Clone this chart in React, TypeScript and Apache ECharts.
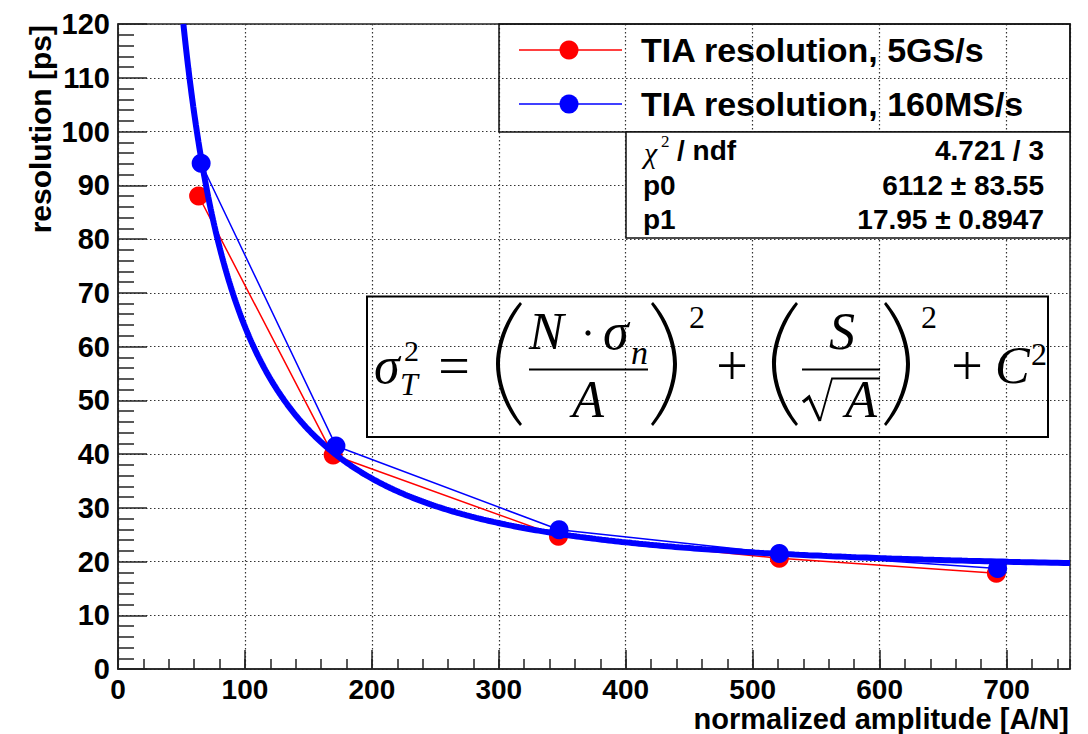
import { useEffect, useRef } from "react";
import * as echarts from "echarts";

// Measured time resolution vs. normalized amplitude for the two sampling rates
const amp5GS = [63.5, 169.5, 347, 521, 692];
const res5GS = [88.0, 39.8, 24.7, 20.6, 17.8];
const amp160MS = [65.5, 171.7, 347.5, 521, 693];
const res160MS = [94.1, 41.5, 25.9, 21.5, 18.7];

const seriesNames = ["TIA resolution, 5GS/s", "TIA resolution, 160MS/s"];

// Fit result: sigma(A) = sqrt((p0 / A)^2 + p1^2)
const fitP0 = 6112;
const fitP0Err = 83.55;
const fitP1 = 17.95;
const fitP1Err = 0.8947;
const fitChi2 = 4.721;
const fitNdf = 3;

const xRange = [0, 750];
const yRange = [0, 120];

const xTitle = "normalized amplitude [A/N]";
const yTitle = "resolution [ps]";

const SANS = "'Liberation Sans', Arial, Helvetica, sans-serif";
const SERIF = "'Liberation Serif', 'Times New Roman', serif";

// Large parentheses for the formula, drawn as filled crescents (28 x 124 box)
const PAREN_L =
  "M 26 0 C 9 20 2 44 2 62 C 2 80 9 104 26 124 L 28 122 C 13 102 6 80 6 62 C 6 44 13 22 28 2 Z";
const PAREN_R =
  "M 2 0 C 19 20 26 44 26 62 C 26 80 19 104 2 124 L 0 122 C 15 102 22 80 22 62 C 22 44 15 22 0 2 Z";
let shapesReady = false;
function registerShapes() {
  if (shapesReady) return;
  echarts.graphic.registerShape("parenLeft", echarts.graphic.extendPath(PAREN_L, {}));
  echarts.graphic.registerShape("parenRight", echarts.graphic.extendPath(PAREN_R, {}));
  shapesReady = true;
}

function fitValue(a: number) {
  return Math.sqrt((fitP0 / a) ** 2 + fitP1 ** 2);
}

function buildFitCurve() {
  const start = fitP0 / Math.sqrt(yRange[1] ** 2 - fitP1 ** 2);
  const pts: number[][] = [];
  const n = 400;
  for (let i = 0; i <= n; i++) {
    const a = start * Math.pow(xRange[1] / start, i / n);
    pts.push([a, fitValue(a)]);
  }
  return pts;
}

function txt(
  x: number,
  y: number,
  text: string,
  opts: {
    size: number;
    family?: string;
    weight?: string;
    italic?: boolean;
    align?: string;
    fill?: string;
    rotation?: number;
    lineHeight?: number;
  }
) {
  const align = opts.align || "left";
  const style: any = {
    text,
    fontSize: opts.size,
    fontFamily: opts.family || SANS,
    fontWeight: opts.weight || "normal",
    fontStyle: opts.italic ? "italic" : "normal",
    fill: opts.fill || "#000",
    textAlign: align,
    align,
    textVerticalAlign: "middle",
    verticalAlign: "middle",
  };
  if (opts.lineHeight) style.lineHeight = opts.lineHeight;
  return {
    type: "text",
    x,
    y,
    rotation: opts.rotation || 0,
    z: 100,
    style,
  };
}

function hline(x1: number, x2: number, y: number, w: number, color = "#000") {
  return {
    type: "line",
    z: 100,
    shape: { x1, y1: y, x2, y2: y },
    style: { stroke: color, lineWidth: w },
  };
}

function buildGraphics() {
  const g: any[] = [];

  // axis titles
  g.push(txt(1069, 719, xTitle, { size: 29, weight: "bold", align: "right", lineHeight: 24 }));
  g.push(txt(40, 25, yTitle, { size: 30, weight: "bold", align: "right", rotation: Math.PI / 2 }));

  // legend box
  g.push({
    type: "rect",
    z: 90,
    shape: { x: 499, y: 24, width: 571, height: 108 },
    style: { fill: "none", stroke: "#111", lineWidth: 1.5 },
  });
  const rows = [
    { y: 50, color: "#ff0000", name: seriesNames[0] },
    { y: 104, color: "#0000ff", name: seriesNames[1] },
  ];
  rows.forEach((r) => {
    g.push(hline(519, 622, r.y, 1.6, r.color));
    g.push({
      type: "circle",
      z: 100,
      shape: { cx: 569, cy: r.y, r: 9.5 },
      style: { fill: r.color },
    });
    g.push(txt(641, r.y, r.name, { size: 34, weight: "bold" }));
  });

  // fit statistics box
  g.push({
    type: "rect",
    z: 95,
    shape: { x: 626, y: 132, width: 444, height: 106 },
    style: { fill: "#fff", stroke: "#111", lineWidth: 1.5 },
  });
  g.push(txt(644, 152, "\u03c7", { size: 30, family: SERIF, italic: true }));
  g.push(txt(661, 141, "2", { size: 17, family: SERIF }));
  g.push(txt(677, 150, "/ ndf", { size: 28, weight: "bold" }));
  g.push(txt(1044, 150, `${fitChi2} / ${fitNdf}`, { size: 28, weight: "bold", align: "right" }));
  g.push(txt(643, 185, "p0", { size: 28, weight: "bold" }));
  g.push(txt(1044, 185, `${fitP0} \u00b1 ${fitP0Err}`, { size: 28, weight: "bold", align: "right" }));
  g.push(txt(643, 219, "p1", { size: 28, weight: "bold" }));
  g.push(txt(1044, 219, `${fitP1} \u00b1 ${fitP1Err}`, { size: 28, weight: "bold", align: "right" }));

  // resolution model formula
  g.push({
    type: "rect",
    z: 90,
    shape: { x: 367, y: 296.5, width: 681, height: 140.5 },
    style: { fill: "none", stroke: "#000", lineWidth: 2 },
  });
  const F = 52;
  const S = 32;
  const base = (b: number, size: number) => b - 0.32 * size;
  // sigma_T^2 =
  g.push(txt(374, base(382, F), "\u03c3", { size: F, family: SERIF, italic: true }));
  g.push(txt(404, base(360, 30), "2", { size: 30, family: SERIF }));
  g.push(txt(400, base(394, 32), "T", { size: 32, family: SERIF, italic: true }));
  g.push(txt(454, base(384, 56), "=", { size: 56, family: SERIF, align: "center" }));
  // ( N . sigma_n / A )^2
  g.push({ type: "parenLeft", x: 494, y: 302, z: 100, style: { fill: "#000" } });
  g.push(txt(529, base(348, F), "N", { size: F, family: SERIF, italic: true }));
  g.push({ type: "circle", z: 100, shape: { cx: 588, cy: 333, r: 2.6 }, style: { fill: "#000" } });
  g.push(txt(603, base(348, F), "\u03c3", { size: F, family: SERIF, italic: true }));
  g.push(txt(631, base(363, 34), "n", { size: 34, family: SERIF, italic: true }));
  g.push(hline(529, 648, 369.5, 2.2));
  g.push(txt(588, base(416, F), "A", { size: F, family: SERIF, italic: true, align: "center" }));
  g.push({ type: "parenRight", x: 651, y: 302, z: 100, style: { fill: "#000" } });
  g.push(txt(689, base(327, S), "2", { size: S, family: SERIF }));
  // + ( S / sqrt(A) )^2
  g.push(txt(732, base(384, 56), "+", { size: 56, family: SERIF, align: "center" }));
  g.push({ type: "parenLeft", x: 770, y: 302, z: 100, style: { fill: "#000" } });
  g.push(txt(842, base(348, F), "S", { size: F, family: SERIF, italic: true, align: "center" }));
  g.push(hline(802, 880, 369.5, 2.2));
  g.push({
    type: "polyline",
    z: 100,
    shape: { points: [[803, 402], [809, 397], [820, 421]] },
    style: { stroke: "#000", lineWidth: 3, fill: "none" },
  });
  g.push({
    type: "polyline",
    z: 100,
    shape: { points: [[820, 421], [832, 378.5], [880, 378.5]] },
    style: { stroke: "#000", lineWidth: 1.8, fill: "none" },
  });
  g.push(txt(861, base(416, F), "A", { size: F, family: SERIF, italic: true, align: "center" }));
  g.push({ type: "parenRight", x: 884, y: 302, z: 100, style: { fill: "#000" } });
  g.push(txt(921, base(327, S), "2", { size: S, family: SERIF }));
  // + C^2
  g.push(txt(967, base(384, 56), "+", { size: 56, family: SERIF, align: "center" }));
  g.push(txt(995, base(382, F), "C", { size: F, family: SERIF, italic: true }));
  g.push(txt(1031, base(364, S), "2", { size: S, family: SERIF }));

  return g;
}

export default function App() {
  const ref = useRef<HTMLDivElement>(null);

  useEffect(() => {
    if (!ref.current) return;
    registerShapes();
    const chart = echarts.init(ref.current, undefined, { renderer: "svg" });

    const labelStyle = {
      color: "#000",
      fontSize: 29,
      fontWeight: "bold",
      fontFamily: SANS,
    };
    const gridDots = { show: true, lineStyle: { color: "#333", width: 1.2, type: [1.5, 2.5] } };

    const option: any = {
      animation: false,
      backgroundColor: "#fff",
      grid: {
        left: 118,
        right: 18,
        top: 24,
        bottom: 65,
        show: true,
        borderColor: "#222",
        borderWidth: 1.5,
        backgroundColor: "transparent",
        containLabel: false,
        outerBoundsMode: "none",
      },
      xAxis: [
        {
          type: "value",
          min: xRange[0],
          max: xRange[1],
          interval: 100,
          position: "bottom",
          axisLine: { show: true, onZero: false, lineStyle: { color: "#222", width: 1.5 } },
          axisTick: { show: true, inside: true, length: 19, lineStyle: { color: "#222", width: 1.5 } },
          axisLabel: { ...labelStyle, fontSize: 28, lineHeight: 22, margin: 9, showMaxLabel: false },
          splitLine: gridDots,
        },
        {
          type: "value",
          min: xRange[0],
          max: xRange[1],
          interval: 20,
          position: "bottom",
          axisLine: { show: false, onZero: false },
          axisTick: { show: true, inside: true, length: 10, lineStyle: { color: "#222", width: 1.5 } },
          axisLabel: { show: false },
          splitLine: { show: false },
        },
      ],
      yAxis: {
        type: "value",
        min: yRange[0],
        max: yRange[1],
        interval: 10,
        axisLine: { show: true, onZero: false, lineStyle: { color: "#222", width: 1.5 } },
        axisTick: { show: true, inside: true, length: 29, lineStyle: { color: "#222", width: 1.5 } },
        minorTick: { show: true, splitNumber: 5, length: 16, lineStyle: { color: "#222", width: 1.5 } },
        axisLabel: { ...labelStyle, margin: 8 },
        splitLine: gridDots,
      },
      series: [
        {
          name: seriesNames[0],
          type: "line",
          xAxisIndex: 0,
          data: amp5GS.map((a, i) => [a, res5GS[i]]),
          symbol: "circle",
          symbolSize: 19,
          itemStyle: { color: "#ff0000" },
          lineStyle: { color: "#ff0000", width: 1.5 },
          z: 3,
        },
        {
          name: seriesNames[1],
          type: "line",
          xAxisIndex: 0,
          data: amp160MS.map((a, i) => [a, res160MS[i]]),
          symbol: "circle",
          symbolSize: 19,
          itemStyle: { color: "#0000ff" },
          lineStyle: { color: "#0000ff", width: 1.5 },
          z: 4,
        },
        {
          name: "fit",
          type: "line",
          xAxisIndex: 0,
          data: buildFitCurve(),
          showSymbol: false,
          symbol: "none",
          lineStyle: { color: "#0000ff", width: 6 },
          clip: true,
          z: 5,
        },
      ],
      graphic: buildGraphics(),
    };

    chart.setOption(option);
    return () => chart.dispose();
  }, []);

  return (
    <div
      ref={ref}
      style={{ position: "fixed", left: 0, top: 0, width: 1088, height: 734, background: "#fff" }}
    />
  );
}
